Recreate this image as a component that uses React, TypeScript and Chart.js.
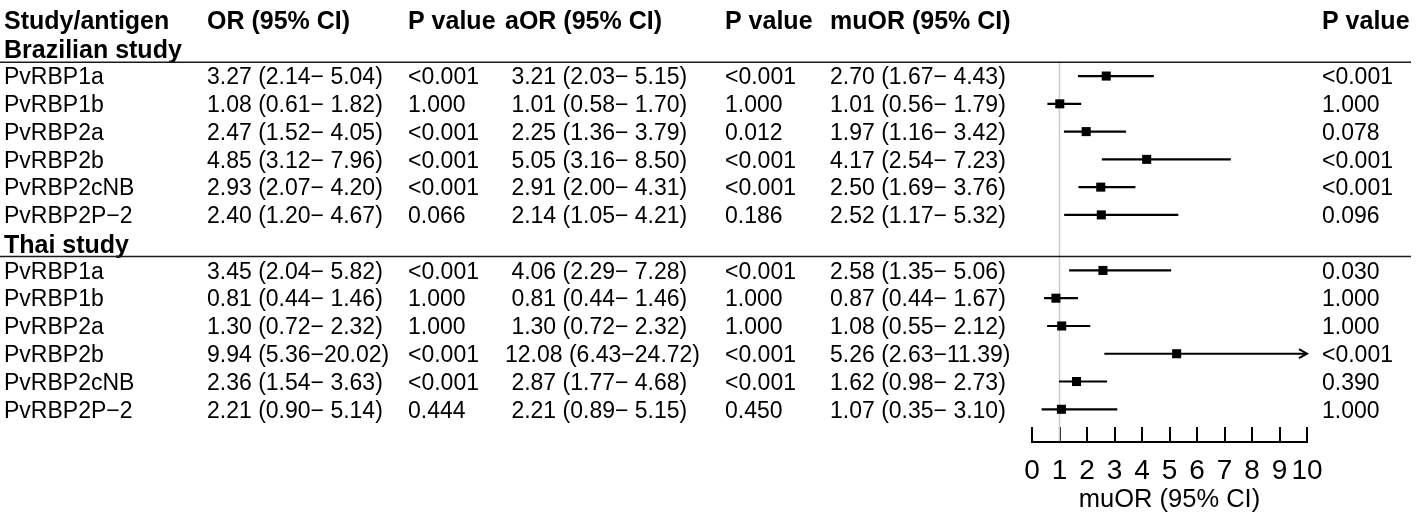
import React, { useEffect, useRef } from 'react';
import { Chart, registerables } from 'chart.js';

Chart.register(...registerables);

const FONT = '"Liberation Sans", Arial, Helvetica, sans-serif';

// ---------- data ----------
const headers = ['Study/antigen', 'OR (95% CI)', 'P value', 'aOR (95% CI)', 'P value', 'muOR (95% CI)', 'P value'];
const studyNames = ['Brazilian study', 'Thai study'];
const antigens = ['PvRBP1a', 'PvRBP1b', 'PvRBP2a', 'PvRBP2b', 'PvRBP2cNB', 'PvRBP2P\u22122'];

// Brazilian study
const brOR = [3.27, 1.08, 2.47, 4.85, 2.93, 2.40];
const brORlo = [2.14, 0.61, 1.52, 3.12, 2.07, 1.20];
const brORhi = [5.04, 1.82, 4.05, 7.96, 4.20, 4.67];
const brORp = ['<0.001', '1.000', '<0.001', '<0.001', '<0.001', '0.066'];
const brAOR = [3.21, 1.01, 2.25, 5.05, 2.91, 2.14];
const brAORlo = [2.03, 0.58, 1.36, 3.16, 2.00, 1.05];
const brAORhi = [5.15, 1.70, 3.79, 8.50, 4.31, 4.21];
const brAORp = ['<0.001', '1.000', '0.012', '<0.001', '<0.001', '0.186'];
const brMuOR = [2.70, 1.01, 1.97, 4.17, 2.50, 2.52];
const brMuORlo = [1.67, 0.56, 1.16, 2.54, 1.69, 1.17];
const brMuORhi = [4.43, 1.79, 3.42, 7.23, 3.76, 5.32];
const brMuORp = ['<0.001', '1.000', '0.078', '<0.001', '<0.001', '0.096'];

// Thai study
const thOR = [3.45, 0.81, 1.30, 9.94, 2.36, 2.21];
const thORlo = [2.04, 0.44, 0.72, 5.36, 1.54, 0.90];
const thORhi = [5.82, 1.46, 2.32, 20.02, 3.63, 5.14];
const thORp = ['<0.001', '1.000', '1.000', '<0.001', '<0.001', '0.444'];
const thAOR = [4.06, 0.81, 1.30, 12.08, 2.87, 2.21];
const thAORlo = [2.29, 0.44, 0.72, 6.43, 1.77, 0.89];
const thAORhi = [7.28, 1.46, 2.32, 24.72, 4.68, 5.15];
const thAORp = ['<0.001', '1.000', '1.000', '<0.001', '<0.001', '0.450'];
const thMuOR = [2.58, 0.87, 1.08, 5.26, 1.62, 1.07];
const thMuORlo = [1.35, 0.44, 0.55, 2.63, 0.98, 0.35];
const thMuORhi = [5.06, 1.67, 2.12, 11.39, 2.73, 3.10];
const thMuORp = ['0.030', '1.000', '1.000', '<0.001', '0.390', '1.000'];

const xTicks = [0, 1, 2, 3, 4, 5, 6, 7, 8, 9, 10];
const xTitle = 'muOR (95% CI)';
const refValue = 1;

// ---------- layout / style ----------
const W = 1424;
const H = 514;
const COL_X = [4, 207, 408, 505, 725, 830, 1322];
const PLOT_LEFT = 1032;
const PLOT_RIGHT = 1307;
const TICK_LEN = 15;
const AXIS_H = 87;
const DATA_FS = 23;
const HEAD_FS = 25;
const RULE_LEFT = 0;
const RULE_RIGHT = 1411;

type Row = { kind: 'header' | 'study' | 'data'; cells: string[]; est?: number; lo?: number; hi?: number; idx: number };

function fmt(v: number, w: number) {
  return v.toFixed(2).padStart(w, ' ');
}
function ciStr(e: number, l: number, h: number, we: number, wl: number, wh: number) {
  return `${fmt(e, we)} (${fmt(l, wl)}\u2212${fmt(h, wh)})`;
}
function width(arrs: number[][]) {
  return Math.max(...arrs.flat().map((v) => v.toFixed(2).length));
}

function buildRows(): Row[] {
  const rows: Row[] = [];
  let idx = 0;
  rows.push({ kind: 'header', cells: headers, idx: idx++ });
  const groups = [
    [brOR, brORlo, brORhi, brORp, brAOR, brAORlo, brAORhi, brAORp, brMuOR, brMuORlo, brMuORhi, brMuORp],
    [thOR, thORlo, thORhi, thORp, thAOR, thAORlo, thAORhi, thAORp, thMuOR, thMuORlo, thMuORhi, thMuORp],
  ] as any[];
  const wOR = [width([brOR, thOR]), width([brORlo, thORlo]), width([brORhi, thORhi])];
  const wAOR = [width([brAOR, thAOR]), width([brAORlo, thAORlo]), width([brAORhi, thAORhi])];
  const wMu = [width([brMuOR, thMuOR]), width([brMuORlo, thMuORlo]), width([brMuORhi, thMuORhi])];
  groups.forEach((g, gi) => {
    rows.push({ kind: 'study', cells: [studyNames[gi]], idx: idx++ });
    antigens.forEach((a, i) => {
      rows.push({
        kind: 'data',
        cells: [
          a,
          ciStr(g[0][i], g[1][i], g[2][i], wOR[0], wOR[1], wOR[2]),
          g[3][i],
          ciStr(g[4][i], g[5][i], g[6][i], wAOR[0], wAOR[1], wAOR[2]),
          g[7][i],
          ciStr(g[8][i], g[9][i], g[10][i], wMu[0], wMu[1], wMu[2]),
          g[11][i],
        ],
        est: g[8][i],
        lo: g[9][i],
        hi: g[10][i],
        idx: idx++,
      });
    });
  });
  return rows;
}

const ROWS = buildRows();

const forestPlugin = {
  id: 'forestTable',
  beforeDatasetsDraw(chart: any) {
    const { ctx, chartArea, scales } = chart;
    const x = scales.x;
    const y = scales.y;
    const top = (y.getPixelForValue(1) + y.getPixelForValue(2)) / 2;
    const bottom = chartArea.bottom + TICK_LEN;
    const px = x.getPixelForValue(refValue);
    ctx.save();
    ctx.strokeStyle = '#cccccc';
    ctx.lineWidth = 1.5;
    ctx.beginPath();
    ctx.moveTo(px, top);
    ctx.lineTo(px, bottom);
    ctx.stroke();
    ctx.restore();
  },
  afterDraw(chart: any) {
    const { ctx, chartArea, scales } = chart;
    const x = scales.x;
    const y = scales.y;
    ctx.save();
    ctx.fillStyle = '#000';
    ctx.textAlign = 'left';
    ctx.textBaseline = 'alphabetic';
    ROWS.forEach((r) => {
      const bold = r.kind !== 'data';
      const fs = bold ? HEAD_FS : DATA_FS;
      ctx.font = `${bold ? 'bold ' : ''}${fs}px ${FONT}`;
      const cy = y.getPixelForValue(r.idx);
      const base = cy + (fs * 0.716) / 2 + (r.kind === 'study' ? 1 : 0);
      r.cells.forEach((c, ci) => {
        ctx.fillText(c, COL_X[ci], base);
      });
    });
    // separator rules under study names
    ctx.strokeStyle = '#1a1a1a';
    ctx.lineWidth = 1.5;
    ROWS.filter((r) => r.kind === 'study').forEach((r) => {
      const ly = (y.getPixelForValue(r.idx) + y.getPixelForValue(r.idx + 1)) / 2;
      ctx.beginPath();
      ctx.moveTo(RULE_LEFT, ly);
      ctx.lineTo(RULE_RIGHT, ly);
      ctx.stroke();
    });
    // axis base line
    ctx.strokeStyle = '#000';
    ctx.lineWidth = 2;
    const ay = chartArea.bottom + TICK_LEN;
    ctx.beginPath();
    ctx.moveTo(x.getPixelForValue(x.min) - 1, ay);
    ctx.lineTo(x.getPixelForValue(x.max) + 1, ay);
    ctx.stroke();
    // arrows for truncated CIs
    ROWS.filter((r) => r.kind === 'data' && (r.hi as number) > x.max).forEach((r) => {
      const tip = x.getPixelForValue(x.max);
      const yy = y.getPixelForValue(r.idx);
      ctx.beginPath();
      ctx.moveTo(tip - 8, yy - 4.5);
      ctx.lineTo(tip, yy);
      ctx.lineTo(tip - 8, yy + 4.5);
      ctx.stroke();
    });
    ctx.restore();
  },
};

export default function App() {
  const ref = useRef<HTMLCanvasElement | null>(null);
  useEffect(() => {
    document.body.style.margin = '0';
    const canvas = ref.current;
    if (!canvas) return;
    Chart.defaults.font.family = FONT;
    const dataRows = ROWS.filter((r) => r.kind === 'data');
    const ciSets = dataRows.map((r) => ({
      type: 'scatter' as const,
      data: [
        { x: r.lo as number, y: r.idx },
        { x: r.hi as number, y: r.idx },
      ],
      showLine: true,
      borderColor: '#000',
      borderWidth: 2.2,
      pointRadius: 0,
      order: 2,
    }));
    const boxSet = {
      type: 'scatter' as const,
      data: dataRows.map((r) => ({ x: r.est as number, y: r.idx })),
      showLine: false,
      pointStyle: 'rect',
      pointRadius: 6.4,
      backgroundColor: '#000',
      borderColor: '#000',
      borderWidth: 0,
      order: 1,
    };
    const chart = new Chart(canvas, {
      type: 'scatter',
      data: { datasets: [...ciSets, boxSet] as any },
      options: {
        animation: false,
        responsive: false,
        devicePixelRatio: 1,
        events: [],
        layout: { autoPadding: false, padding: { left: PLOT_LEFT, right: W - PLOT_RIGHT, top: 0, bottom: 0 } },
        plugins: { legend: { display: false }, tooltip: { enabled: false } },
        scales: {
          x: {
            type: 'linear',
            min: xTicks[0],
            max: xTicks[xTicks.length - 1],
            afterBuildTicks: (scale: any) => {
              scale.ticks = xTicks.map((v) => ({ value: v }));
            },
            afterFit: (scale: any) => {
              scale.height = AXIS_H;
            },
            grid: { drawOnChartArea: false, drawTicks: true, tickLength: TICK_LEN, color: '#000', lineWidth: 2 },
            border: { display: false },
            ticks: { color: '#000', font: { family: FONT, size: 28 }, padding: 12, maxRotation: 0, autoSkip: false },
            title: { display: true, text: xTitle, color: '#000', font: { family: FONT, size: 25.5, lineHeight: 1 }, padding: { top: 0, bottom: 1 } },
          },
          y: { type: 'linear', display: false, reverse: true, min: -0.739, max: 14.638 },
        },
      },
      plugins: [forestPlugin],
    } as any);
    return () => chart.destroy();
  }, []);
  return <canvas ref={ref} width={W} height={H} style={{ display: 'block' }} />;
}
